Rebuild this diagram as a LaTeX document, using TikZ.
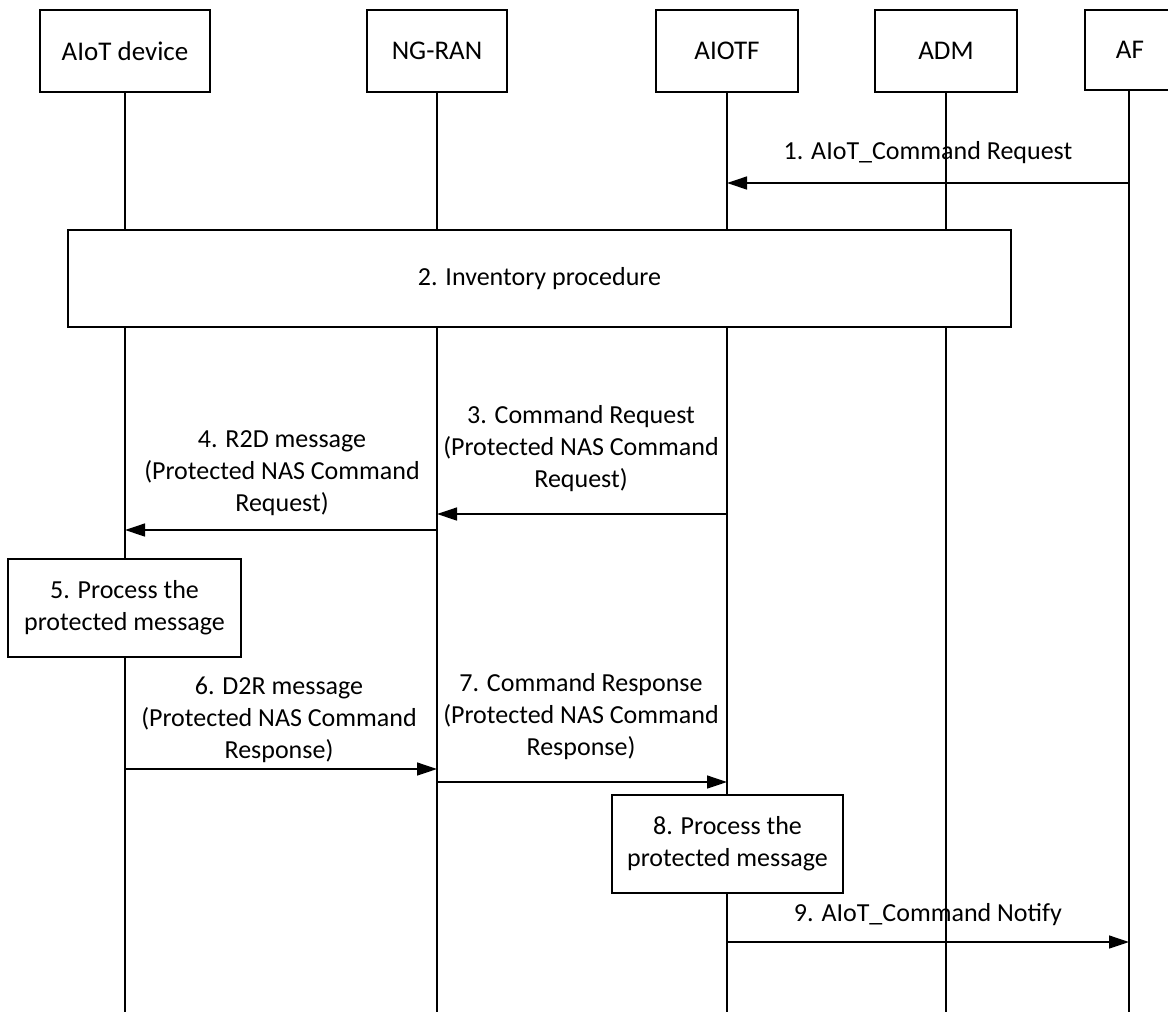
\documentclass[tikz,border=0pt]{standalone}
\usepackage{fontspec}
\setmainfont{Carlito}
\usepackage{tikz}
\usetikzlibrary{positioning,arrows.meta}

\begin{document}
\begin{tikzpicture}[
    x=1pt, y=-1pt,
    line width=1.3pt,
    entity/.style={rectangle, draw, minimum height=82pt, inner sep=0pt, font=\fontsize{27}{33}\selectfont},
    procbox/.style={rectangle, draw, fill=white, inner sep=0pt, align=center, font=\fontsize{26}{32}\selectfont},
    msg/.style={-{Triangle[length=20pt,width=13pt]}},
    msglbl/.style={align=center, inner sep=0pt, font=\fontsize{26}{32}\selectfont}
]
\useasboundingbox (0,0) rectangle (1168,1012);

% Lanes
\def\xDev{125}
\def\xRan{437}
\def\xTf{727}
\def\xAdm{946}
\def\xAf{1129}

% Rows
\def\yHead{51}
\def\yEnd{1012}
\def\yMsgA{183}
\def\yMsgC{514}
\def\yMsgD{530}
\def\yMsgF{769}
\def\yMsgG{782}
\def\yMsgI{942}

% Entities
\node[entity, minimum width=170pt] (dev)   at (\xDev,\yHead) {AIoT device};
\node[entity, minimum width=140pt] (ran)   at (\xRan,\yHead) {NG-RAN};
\node[entity, minimum width=142pt] (aiotf) at (\xTf,\yHead)  {AIOTF};
\node[entity, minimum width=142pt] (adm)   at (\xAdm,\yHead) {ADM};
\node[entity, minimum width=90pt, minimum height=80pt] (af) at (1130,50) {AF};

% Lifelines
\coordinate (devEnd) at (\xDev,\yEnd);
\coordinate (ranEnd) at (\xRan,\yEnd);
\coordinate (tfEnd)  at (\xTf,\yEnd);
\coordinate (admEnd) at (\xAdm,\yEnd);
\coordinate (afEnd)  at (\xAf,\yEnd);

\draw (dev.south)   -- (devEnd);
\draw (ran.south)   -- (ranEnd);
\draw (aiotf.south) -- (tfEnd);
\draw (adm.south)   -- (admEnd);
\draw (af.south -| afEnd) -- (afEnd);

% 1. AF -> AIOTF
\coordinate (af1) at (\xAf,\yMsgA);
\coordinate (tf1) at (\xTf,\yMsgA);
\draw[msg] (af1) -- (tf1);
\node[msglbl] (lbl1) at (928,153) {1. AIoT\_Command Request};

% 2. Inventory procedure
\node[procbox, minimum width=943pt, minimum height=97pt] (inv) at (539.5,278.5) {2. Inventory procedure};

% 3. AIOTF -> NG-RAN
\coordinate (tf3)  at (\xTf,\yMsgC);
\coordinate (ran3) at (\xRan,\yMsgC);
\draw[msg] (tf3) -- (ran3);
\node[msglbl] (lbl3) at (581,449) {3. Command Request\\(Protected NAS Command\\Request)};

% 4. NG-RAN -> AIoT device
\coordinate (ran4) at (\xRan,\yMsgD);
\coordinate (dev4) at (\xDev,\yMsgD);
\draw[msg] (ran4) -- (dev4);
\node[msglbl] (lbl4) at (282,473) {4. R2D message\\(Protected NAS Command\\Request)};

% 5. Device processing
\node[procbox, minimum width=233pt, minimum height=98pt] (proc5) at (124.5,608) {5. Process the\\protected message};

% 6. AIoT device -> NG-RAN
\coordinate (dev6) at (\xDev,\yMsgF);
\coordinate (ran6) at (\xRan,\yMsgF);
\draw[msg] (dev6) -- (ran6);
\node[msglbl] (lbl6) at (279,720) {6. D2R message\\(Protected NAS Command\\Response)};

% 7. NG-RAN -> AIOTF
\coordinate (ran7) at (\xRan,\yMsgG);
\coordinate (tf7)  at (\xTf,\yMsgG);
\draw[msg] (ran7) -- (tf7);
\node[msglbl] (lbl7) at (581,717) {7. Command Response\\(Protected NAS Command\\Response)};

% 8. AIOTF processing
\node[procbox, minimum width=231pt, minimum height=98pt] (proc8) at (727.5,844) {8. Process the\\protected message};

% 9. AIOTF -> AF
\coordinate (tf9) at (\xTf,\yMsgI);
\coordinate (af9) at (\xAf,\yMsgI);
\draw[msg] (tf9) -- (af9);
\node[msglbl] (lbl9) at (928,915) {9. AIoT\_Command Notify};
\end{tikzpicture}
\end{document}
